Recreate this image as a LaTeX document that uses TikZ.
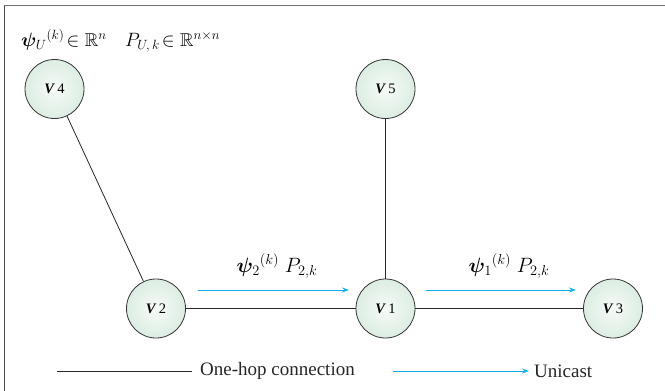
\documentclass[tikz,border=0pt]{standalone}
\usepackage{amsmath,amssymb,bm,graphicx}
\usepackage{fontspec}
\setmainfont{Liberation Serif}
\usetikzlibrary{arrows.meta}
\definecolor{nodefill}{RGB}{220,237,226}
\definecolor{unicast}{RGB}{20,176,238}
\begin{document}
\begin{tikzpicture}[x=1pt,y=-1pt,
 vnode/.style={circle,draw=black!80,line width=0.8pt,minimum size=59pt,inner sep=0pt,
   inner color=white!75!nodefill,outer color=nodefill,font=\fontsize{14.5}{16}\selectfont},
 link/.style={draw=black!85,line width=0.8pt},
 uni/.style={draw=unicast,line width=1pt,-{Stealth[length=7pt,width=5pt]}},
 mathlab/.style={font=\fontsize{20}{24}\selectfont,inner sep=0pt},
 legtext/.style={font=\fontsize{19}{22}\selectfont,anchor=west,inner sep=0pt,text=black!85},
]
\useasboundingbox (0,0) rectangle (665,391);
\coordinate (tl) at (4,5.5);
\coordinate (tr) at (665,5.5);
\coordinate (bl) at (4,391);
\draw[line width=1.3pt,black!55] (tl) -- (tr);
\draw[line width=0.8pt,black!70] (tl) -- (bl);

\node[mathlab,anchor=west] (top) at (21,41)
 {\scalebox{0.93}{$\bm{\psi}_{U}{}^{(k)}\!\in\mathbb{R}^{n}\quad P_{U,\,k}\!\in\mathbb{R}^{n\times n}$}};

\node[vnode] (v4) at (54.5,89) {\textbf{\textit{V}}\,4};
\node[vnode] (v5) at (385.5,89) {\textbf{\textit{V}}\,5};
\node[vnode] (v2) at (156,308.5) {\textbf{\textit{V}}\,2};
\node[vnode] (v1) at (385.5,308.5) {\textbf{\textit{V}}\,1};
\node[vnode] (v3) at (613,308.5) {\textbf{\textit{V}}\,3};

\draw[link] (v4) -- (v2);
\draw[link] (v5) -- (v1);
\draw[link] (v2) -- (v1);
\draw[link] (v1) -- (v3);

\coordinate (a1s) at (198,290);
\coordinate (a1e) at (349,290);
\coordinate (a2s) at (426,290);
\coordinate (a2e) at (576,290);
\draw[uni] (a1s) -- (a1e);
\draw[uni] (a2s) -- (a2e);
\node[mathlab] (l1) at (277,266) {$\bm{\psi}_{2}{}^{(k)}\;P_{2,k}$};
\node[mathlab] (l2) at (509,266) {$\bm{\psi}_{1}{}^{(k)}\;P_{2,k}$};

\coordinate (g1s) at (57,371);
\coordinate (g1e) at (192,371);
\draw[link] (g1s) -- (g1e);
\node[legtext] (g1t) at (200,371) {One-hop connection};
\coordinate (g2s) at (393,371);
\coordinate (g2e) at (529,371);
\draw[uni] (g2s) -- (g2e);
\node[legtext] (g2t) at (534,371) {Unicast};
\end{tikzpicture}
\end{document}
